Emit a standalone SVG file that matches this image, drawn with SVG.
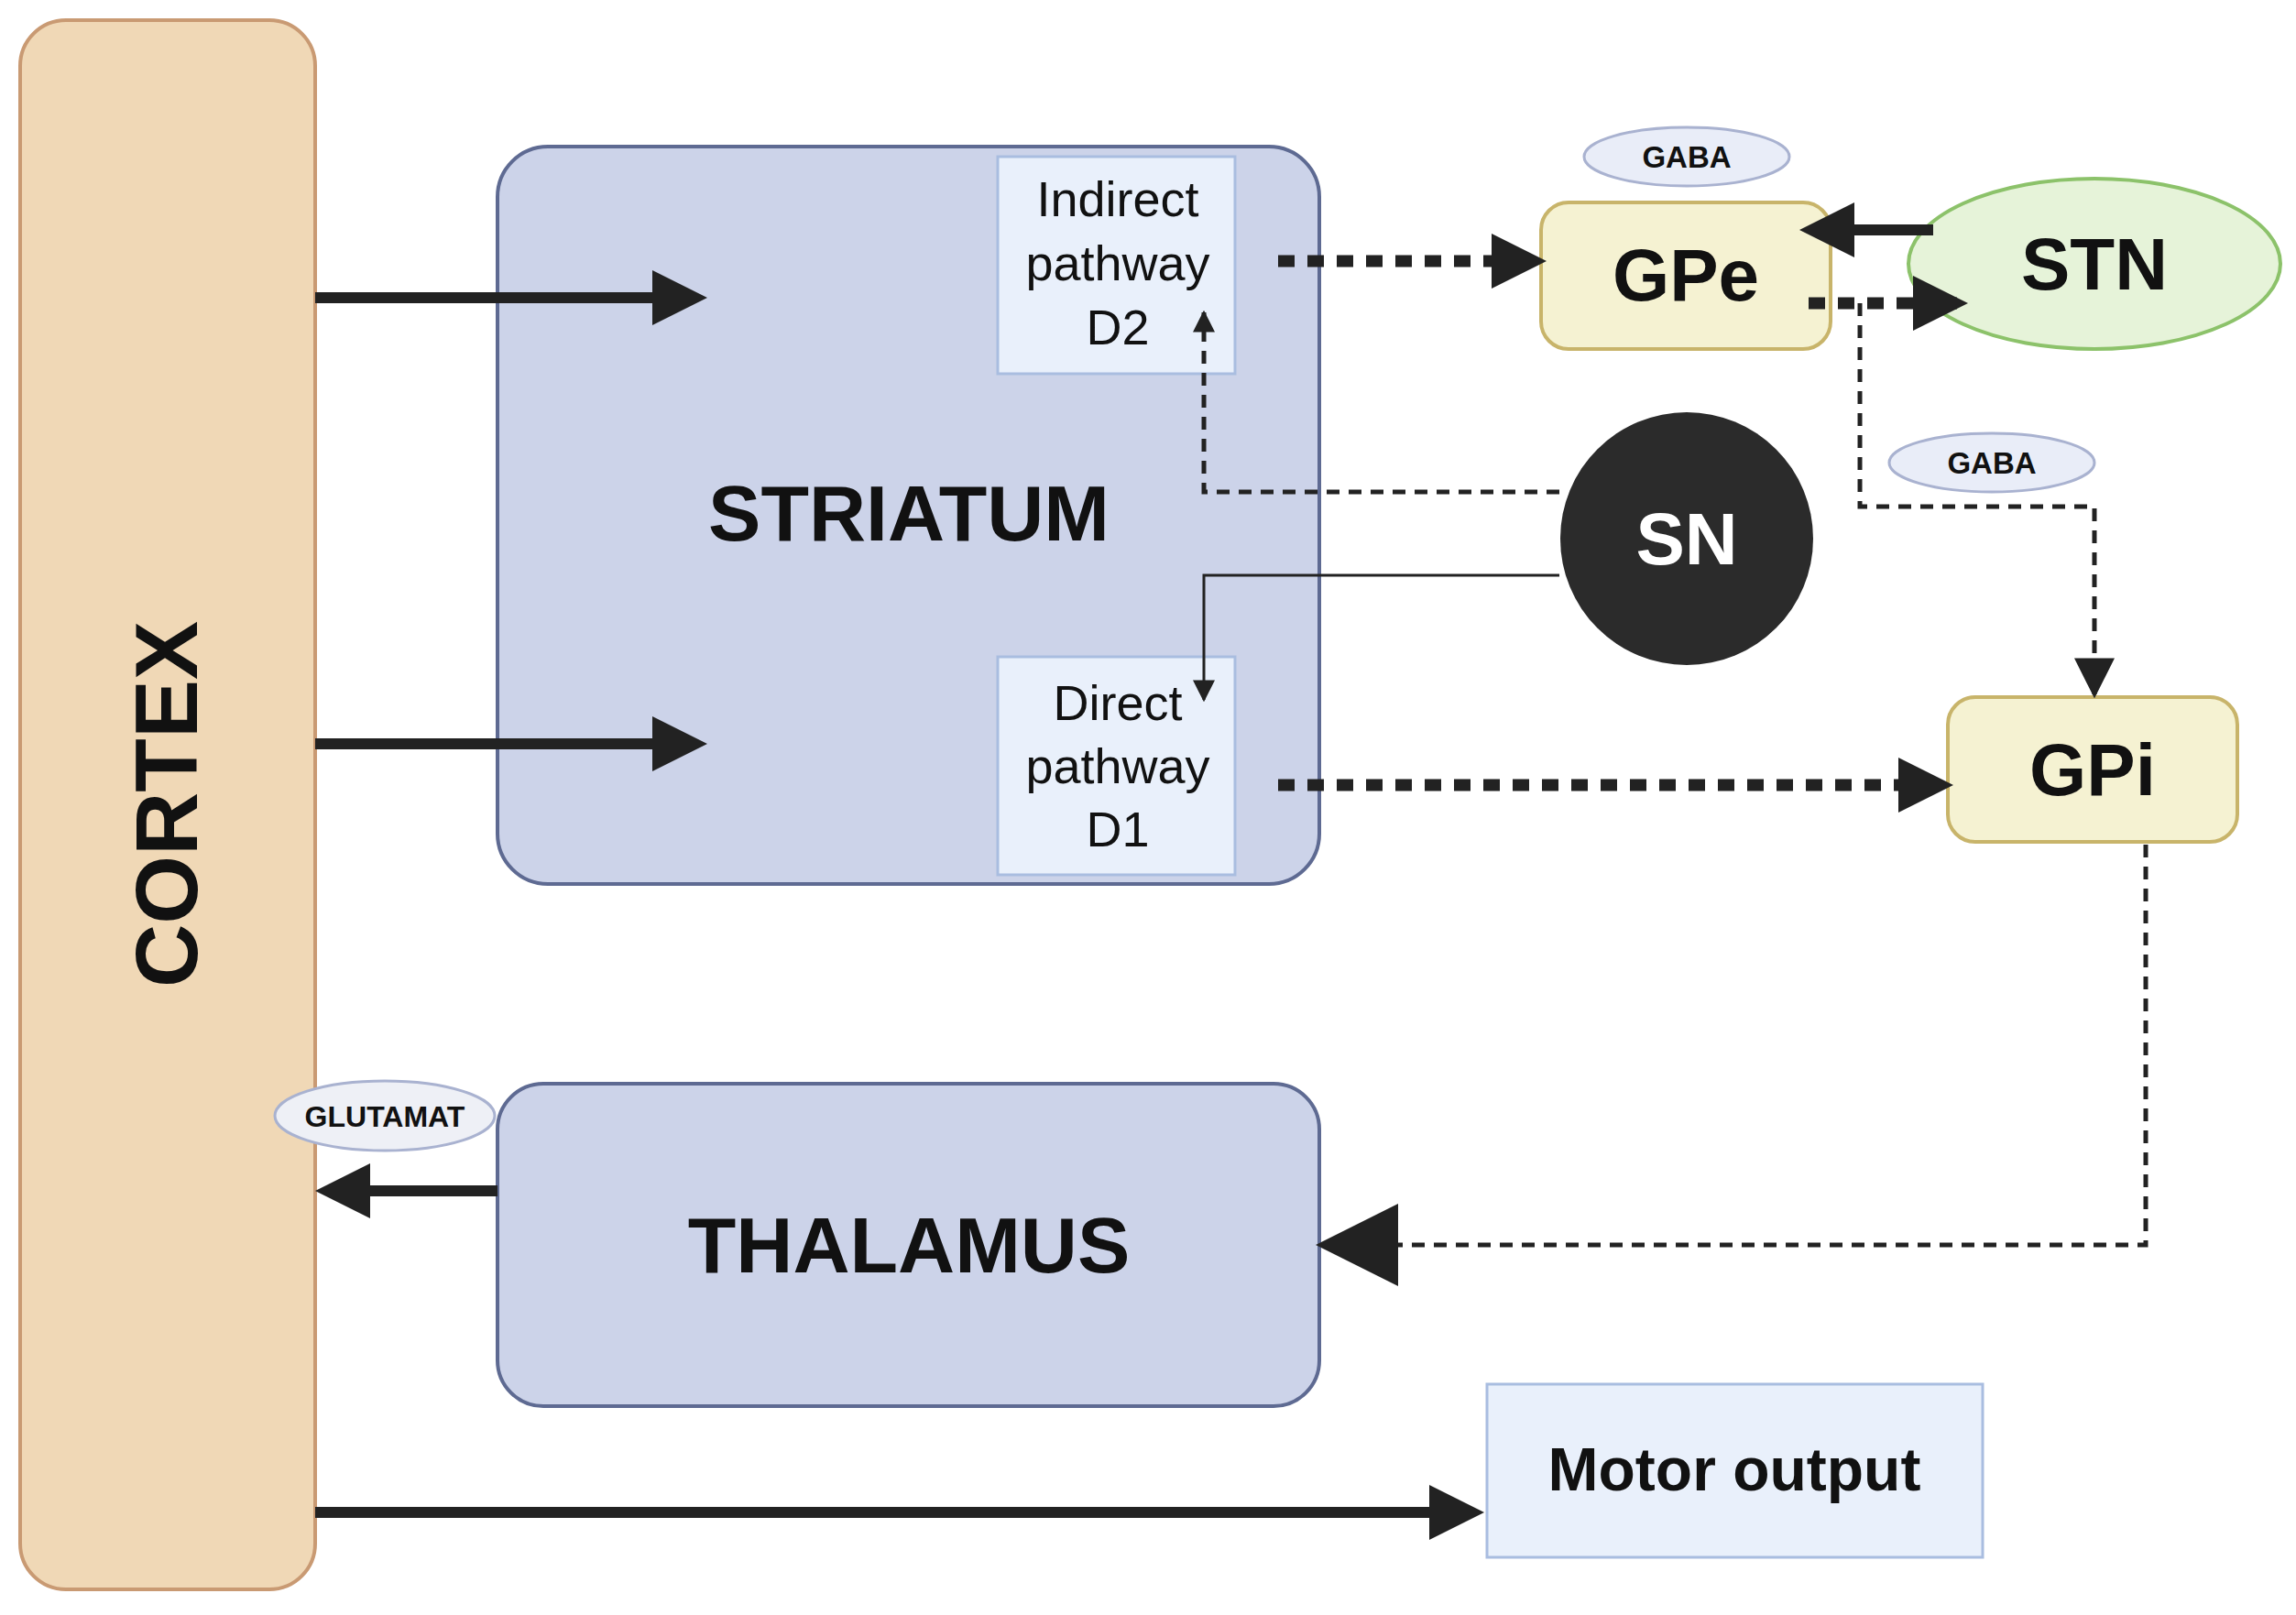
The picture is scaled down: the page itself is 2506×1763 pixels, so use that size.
<svg xmlns="http://www.w3.org/2000/svg" width="2506" height="1763" viewBox="0 0 2506 1763">
<style>
.t{font-family:"Liberation Sans",Arial,sans-serif;fill:#111}
.b{font-weight:bold}
.solid{stroke:#222;stroke-width:12;fill:none}
.dot{stroke:#222;stroke-width:13;fill:none;stroke-dasharray:18 14}
.dash{stroke:#222;stroke-width:5;fill:none;stroke-dasharray:14 10}
.tag{fill:#e9edf8;stroke:#a9b2d0;stroke-width:3}
</style>
<defs>
<marker id="a1" viewBox="0 0 10 10" refX="8" refY="5" markerWidth="60" markerHeight="60" markerUnits="userSpaceOnUse" orient="auto"><path d="M0,0L10,5L0,10z" fill="#222"/></marker>
<marker id="a2" viewBox="0 0 10 10" refX="9" refY="5" markerWidth="24" markerHeight="24" markerUnits="userSpaceOnUse" orient="auto"><path d="M0,0L10,5L0,10z" fill="#222"/></marker>
<marker id="a4" viewBox="0 0 10 10" refX="9" refY="5" markerWidth="44" markerHeight="44" markerUnits="userSpaceOnUse" orient="auto"><path d="M0,0L10,5L0,10z" fill="#222"/></marker>
<marker id="a3" viewBox="0 0 10 10" refX="9" refY="5" markerWidth="90" markerHeight="90" markerUnits="userSpaceOnUse" orient="auto"><path d="M0,0L10,5L0,10z" fill="#222"/></marker>
</defs>
<rect width="2506" height="1763" fill="#fff"/>
<g id="cortex"><rect x="22" y="22" width="322" height="1713" rx="50" fill="#f0d8b6" stroke="#c99a73" stroke-width="4"/>
<text class="t b" font-size="96" transform="translate(215,878) rotate(-90)" text-anchor="middle">CORTEX</text></g>
<g id="striatum"><rect x="543" y="160" width="897" height="805" rx="55" fill="#ccd3e9" stroke="#5e6a92" stroke-width="4"/>
<text class="t b" x="992" y="590" font-size="86" text-anchor="middle">STRIATUM</text></g>
<g id="indirect"><rect x="1089" y="171" width="259" height="237" fill="#e9f0fb" stroke="#a9bde0" stroke-width="3"/>
<text class="t" font-size="54" text-anchor="middle"><tspan x="1220" y="236">Indirect</tspan><tspan x="1220" y="306">pathway</tspan><tspan x="1220" y="376">D2</tspan></text></g>
<g id="direct"><rect x="1089" y="717" width="259" height="238" fill="#e9f0fb" stroke="#a9bde0" stroke-width="3"/>
<text class="t" font-size="54" text-anchor="middle"><tspan x="1220" y="786">Direct</tspan><tspan x="1220" y="855">pathway</tspan><tspan x="1220" y="924">D1</tspan></text></g>
<g id="thalamus"><rect x="543" y="1183" width="897" height="352" rx="50" fill="#ccd3e9" stroke="#5e6a92" stroke-width="4"/>
<text class="t b" x="992" y="1389" font-size="86" text-anchor="middle">THALAMUS</text></g>
<g id="gpe"><rect x="1682" y="221" width="316" height="160" rx="30" fill="#f5f2d2" stroke="#c8b46a" stroke-width="4"/>
<text class="t b" x="1840" y="328" font-size="80" text-anchor="middle">GPe</text></g>
<g id="gaba1"><ellipse class="tag" cx="1841" cy="171" rx="112" ry="32"/><text class="t b" x="1841" y="183" font-size="33" text-anchor="middle" fill="#333">GABA</text></g>
<g id="stn"><ellipse cx="2286" cy="288" rx="203" ry="93" fill="#e6f3d9" stroke="#8cc26a" stroke-width="4"/>
<text class="t b" x="2286" y="316" font-size="80" text-anchor="middle">STN</text></g>
<g id="sn"><circle cx="1841" cy="588" r="138" fill="#2b2b2b"/>
<text class="t b" x="1841" y="616" font-size="80" text-anchor="middle" style="fill:#fff">SN</text></g>
<g id="gaba2"><ellipse class="tag" cx="2174" cy="505" rx="112" ry="32"/><text class="t b" x="2174" y="517" font-size="33" text-anchor="middle" fill="#333">GABA</text></g>
<g id="gpi"><rect x="2126" y="761" width="316" height="158" rx="30" fill="#f5f2d2" stroke="#c8b46a" stroke-width="4"/>
<text class="t b" x="2284" y="868" font-size="80" text-anchor="middle">GPi</text></g>
<g id="glutamat"><ellipse class="tag" cx="420" cy="1218" rx="120" ry="38" style="fill:#eef0f6"/><text class="t b" x="420" y="1230" font-size="32" text-anchor="middle" fill="#333">GLUTAMAT</text></g>
<g id="motor"><rect x="1623" y="1511" width="541" height="189" fill="#e9f0fb" stroke="#a9bde0" stroke-width="3"/>
<text class="t b" x="1893" y="1627" font-size="66" text-anchor="middle">Motor output</text></g>
<g id="connectors">
<path class="solid" d="M344,325H760" marker-end="url(#a1)"/>
<path class="solid" d="M344,812H760" marker-end="url(#a1)"/>
<path class="solid" d="M543,1300H356" marker-end="url(#a1)"/>
<path class="solid" d="M344,1651H1608" marker-end="url(#a1)"/>
<path class="dot" d="M1395,285H1676" marker-end="url(#a1)"/>
<path class="dot" d="M1395,857H2120" marker-end="url(#a1)"/>
<path class="solid" d="M2110,251H1976" marker-end="url(#a1)"/>
<path class="dot" d="M1974,331H2136" marker-end="url(#a1)"/>
<path class="dash" d="M2030,331V553H2286V758" marker-end="url(#a4)"/>
<path class="dash" d="M1702,537H1314V341" marker-end="url(#a2)"/>
<path d="M1702,628H1314V764" stroke="#222" stroke-width="3" fill="none" marker-end="url(#a2)"/>
<path class="dash" d="M2342,922V1359H1445" marker-end="url(#a3)"/>
</g>
</svg>
